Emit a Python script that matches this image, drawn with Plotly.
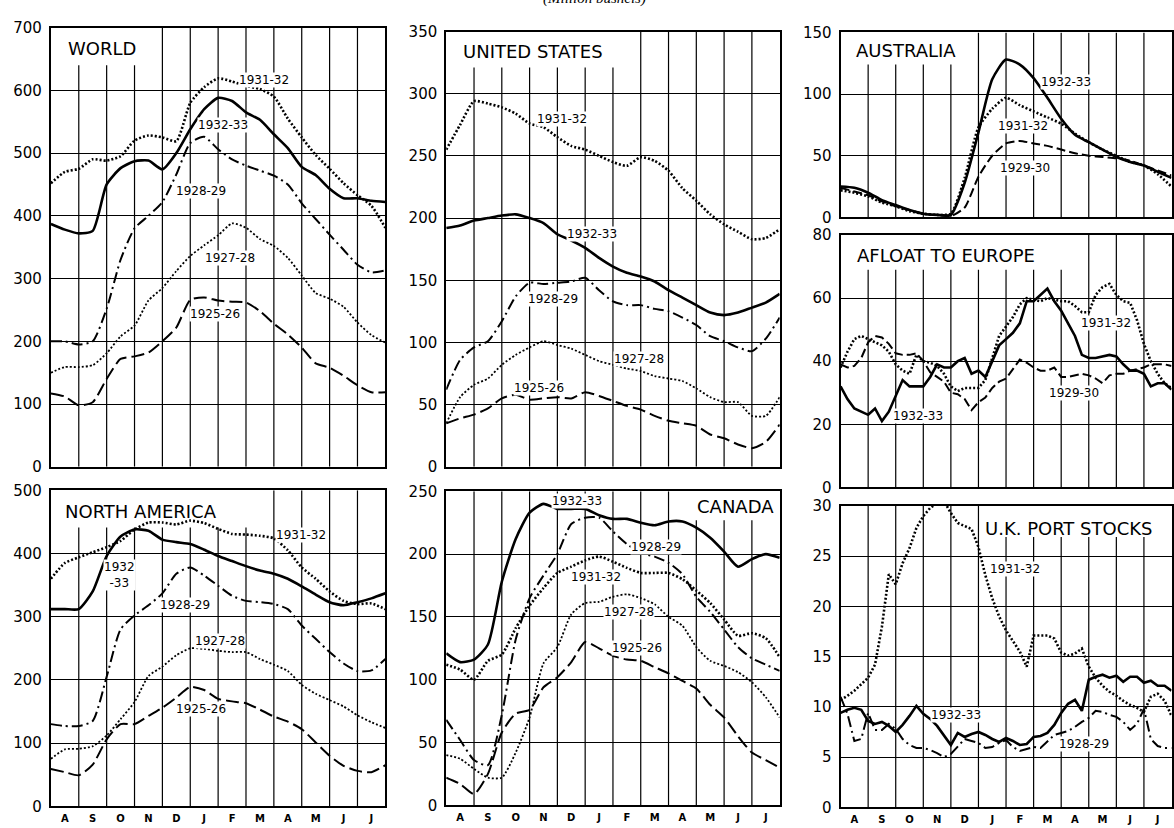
import plotly.graph_objects as go

# ---------------------------------------------------------------------------
# Crop-year wheat stocks, weekly readings from August through July
# ---------------------------------------------------------------------------
MONTHS = ["A", "S", "O", "N", "D", "J", "F", "M", "A", "M", "J", "J"]
HALF_MONTHS = [i / 2 for i in range(25)]      # month index, Aug 1 = 0
QUARTER_MONTHS = [i / 4 for i in range(49)]

# World
WORLD_1932_33 = [387, 378, 372, 376, 450, 476, 487, 488, 474, 500, 538, 570, 588,
                 583, 565, 553, 530, 508, 478, 465, 443, 428, 428, 424, 422]
WORLD_1931_32 = [452, 470, 475, 490, 488, 495, 520, 528, 525, 519, 580, 605, 619,
                 614, 607, 602, 590, 555, 525, 497, 475, 452, 433, 416, 381]
WORLD_1928_29 = [200, 200, 195, 200, 252, 330, 380, 400, 422, 466, 516, 526, 506,
                 490, 480, 472, 464, 450, 420, 395, 370, 346, 322, 310, 313]
WORLD_1927_28 = [150, 159, 159, 162, 181, 208, 225, 265, 285, 312, 336, 353, 369,
                 388, 381, 363, 352, 333, 305, 277, 268, 255, 230, 210, 198]
WORLD_1925_26 = [117, 112, 98, 103, 140, 172, 176, 182, 200, 222, 266, 270, 265,
                 263, 262, 248, 228, 211, 190, 165, 158, 145, 130, 119, 119]

# United States
US_1931_32 = [255, 275, 294, 292, 289, 284, 276, 273, 265, 258, 255, 250, 245,
              242, 249, 246, 238, 224, 214, 203, 195, 189, 183, 184, 191]
US_1932_33 = [192, 194, 198, 200, 202, 203, 200, 196, 187, 182, 176, 168, 161,
              156, 153, 149, 142, 136, 130, 124, 122, 124, 128, 132, 139]
US_1928_29 = [62, 86, 96, 101, 117, 137, 148, 147, 148, 149, 152, 142, 133,
              130, 130, 127, 125, 120, 114, 105, 101, 96, 93, 103, 120]
US_1927_28 = [35, 56, 66, 71, 82, 90, 96, 101, 98, 95, 90, 85, 82,
              79, 77, 73, 71, 69, 63, 56, 52, 52, 41, 41, 56]
US_1925_26 = [35, 39, 42, 47, 55, 58, 54, 55, 56, 55, 60, 57, 53,
              49, 46, 41, 37, 35, 33, 26, 23, 18, 15, 20, 34]

# North America
NA_1932_33 = [312, 312, 312, 340, 396, 427, 438, 436, 422, 418, 415, 406, 396,
              388, 380, 373, 368, 360, 348, 335, 323, 318, 323, 329, 337]
NA_1931_32 = [360, 385, 394, 402, 410, 420, 438, 449, 449, 446, 452, 448, 439,
              431, 430, 428, 424, 405, 378, 360, 340, 325, 320, 321, 312]
NA_1928_29 = [130, 127, 127, 135, 205, 280, 302, 318, 337, 368, 378, 365, 349,
              333, 325, 323, 320, 312, 286, 265, 244, 226, 214, 215, 233]
NA_1927_28 = [75, 90, 91, 95, 112, 138, 165, 206, 221, 239, 250, 249, 246,
              244, 244, 233, 224, 214, 192, 178, 168, 158, 144, 133, 124]
NA_1925_26 = [59, 54, 49, 66, 106, 130, 130, 143, 156, 172, 189, 184, 170,
              166, 163, 153, 142, 134, 122, 101, 80, 64, 56, 54, 65]

# Canada
CA_1932_33 = [121, 114, 116, 128, 178, 212, 233, 240, 236, 236, 236, 231, 228,
              228, 225, 223, 226, 226, 221, 213, 202, 190, 196, 200, 197]
CA_1928_29 = [68, 52, 36, 32, 72, 132, 165, 183, 200, 224, 229, 229, 218,
              208, 201, 198, 193, 184, 166, 154, 140, 126, 117, 112, 107]
CA_1931_32 = [112, 108, 100, 115, 120, 141, 159, 173, 185, 190, 195, 198, 194,
              189, 185, 185, 185, 180, 171, 161, 148, 135, 137, 133, 118]
CA_1927_28 = [40, 37, 29, 22, 22, 42, 70, 113, 126, 152, 161, 162, 166,
              168, 165, 160, 150, 143, 126, 115, 111, 106, 98, 86, 70]
CA_1925_26 = [22, 17, 9, 25, 58, 73, 76, 94, 102, 114, 130, 125, 119,
              116, 115, 110, 105, 99, 93, 80, 70, 55, 42, 36, 30]

# Australia
AU_1932_33 = [25, 24, 20, 14, 10, 6, 3, 2, 2, 28, 69, 112, 128,
              124, 113, 97, 80, 67, 61, 55, 49, 45, 42, 37, 32]
AU_1931_32 = [22, 20, 17, 12, 9, 5, 3, 2, 3, 32, 73, 88, 97,
              91, 86, 81, 76, 68, 61, 55, 50, 45, 42, 35, 25]
AU_1929_30 = [24, 21, 18, 13, 9, 6, 3, 2, 1, 8, 33, 50, 60,
              62, 60, 58, 55, 52, 50, 49, 48, 46, 42, 38, 34]

# Afloat to Europe
AF_1932_33 = [32, 28, 25, 24, 23, 25, 21, 24, 29, 34, 32, 32, 32, 35, 39, 38, 38,
              40, 41, 36, 37, 35, 40, 45, 47, 49, 52, 59, 59, 61, 63, 59, 56,
              52, 48, 42, 41, 41, 41.5, 42, 41.5, 39, 37, 37, 36, 32, 33, 33, 31]
AF_1931_32 = [38, 43, 47, 48, 47, 46, 45, 43, 39, 37, 36, 42, 40, 39.5, 38.5, 36,
              32, 30.5, 31.5, 31.5, 31.5, 34, 41, 48, 51, 54, 58, 60, 59.5, 59,
              60, 59.5, 59, 59, 57.5, 55.5, 55.5, 61, 63.5, 64.5, 61, 59, 58.5,
              53, 45.5, 40, 36, 33, 31.5]
AF_1929_30 = [39, 38, 38.5, 41, 46, 48, 47.5, 45.5, 42.5, 42, 42, 42.5, 40, 36.5,
              35, 33.5, 30, 29.5, 28, 24.5, 27, 28.5, 31.5, 33.5, 34.5, 37.5,
              40.5, 39.5, 38, 37, 37, 38, 35, 35, 35.5, 36, 35.5, 34.5, 33,
              35.5, 36, 36, 37, 37.5, 38, 39, 39, 39, 38.5]

# U.K. port stocks
UK_1931_32 = [10.7, 11.1, 11.6, 12.3, 12.9, 14.2, 18, 23.2, 22.2, 24.3, 25.8,
              27.8, 29, 29.8, 30.3, 30.5, 29.3, 28.3, 28, 27.7, 25.9, 23.1,
              20.8, 19, 17.6, 16.5, 15.5, 14, 17.1, 17.1, 17.1, 16.8, 15.4,
              15.1, 15.3, 15.8, 14, 12.9, 12.1, 11.5, 11.1, 10.6, 10.2, 9.9,
              9.5, 11, 11.3, 10.6, 9.1]
UK_1932_33 = [9.4, 9.7, 9.9, 9.7, 8.6, 8.3, 8.5, 8.1, 7.5, 8.2, 9.1, 10.1, 9.3,
              8.8, 8.1, 7.2, 6.2, 7.4, 7.0, 7.3, 7.5, 7.2, 6.8, 6.5, 6.9, 6.6,
              6.2, 6.3, 7.0, 7.1, 7.4, 8.2, 9.4, 10.3, 10.7, 9.6, 12.7, 13.0,
              13.2, 12.9, 13.1, 12.5, 13.0, 13.0, 12.4, 12.6, 12.1, 12.1, 11.6]
UK_1928_29 = [11, 9.3, 6.6, 6.8, 9.4, 7.7, 7.7, 8.3, 7.8, 6.8, 6.2, 5.9, 5.9,
              5.7, 5.4, 5.0, 5.3, 6.0, 6.8, 6.6, 6.4, 5.9, 6.0, 6.4, 6.7, 6.0,
              5.6, 5.8, 6.0, 5.9, 6.6, 7.2, 7.4, 7.6, 8.0, 8.5, 8.9, 9.6, 9.5,
              9.2, 9.0, 8.5, 7.7, 8.3, 9.8, 6.8, 6.1, 5.9, 5.9]

# ---------------------------------------------------------------------------
W, H = 1174, 828
FONT = "DejaVu Sans"

LINE_STYLES = {
    "1932-33": dict(color="black", width=2.6, dash="solid"),
    "1931-32": dict(color="black", width=2.6, dash="2px,2px"),
    "1929-30": dict(color="black", width=2.0, dash="9px,4px"),
    "1928-29": dict(color="black", width=2.0, dash="11px,4px,2px,4px"),
    "1927-28": dict(color="black", width=1.8, dash="2px,2px"),
    "1925-26": dict(color="black", width=2.0, dash="13px,5px"),
}

PANELS = [
    dict(title="WORLD", t_pos=(0.55, 667, "left"), xpx=(51, 386), ypx=(19, 468),
         ymax=700, step=100, months=False, x=HALF_MONTHS, smooth=True,
         box=(0, 4, 640),
         series=[("1925-26", WORLD_1925_26), ("1927-28", WORLD_1927_28),
                 ("1928-29", WORLD_1928_29), ("1931-32", WORLD_1931_32),
                 ("1932-33", WORLD_1932_33)],
         labels=[("1931-32", 7.65, 616), ("1932-33", 6.18, 545),
                 ("1928-29", 5.4, 439), ("1927-28", 6.42, 332),
                 ("1925-26", 5.88, 244)]),
    dict(title="UNITED STATES", t_pos=(0.54, 334, "left"), xpx=(447, 781),
         ypx=(23, 468), ymax=350, step=50, months=False, x=HALF_MONTHS,
         smooth=True, box=(0, 7, 321),
         series=[("1925-26", US_1925_26), ("1927-28", US_1927_28),
                 ("1928-29", US_1928_29), ("1931-32", US_1931_32),
                 ("1932-33", US_1932_33)],
         labels=[("1931-32", 4.18, 280), ("1932-33", 5.26, 187),
                 ("1928-29", 3.83, 135), ("1927-28", 6.94, 87),
                 ("1925-26", 3.35, 63)]),
    dict(title="NORTH AMERICA", t_pos=(0.43, 467, "left"), xpx=(51, 386),
         ypx=(492, 815), ymax=500, step=100, months=True, x=HALF_MONTHS,
         smooth=True, box=(0, 8, 441),
         series=[("1925-26", NA_1925_26), ("1927-28", NA_1927_28),
                 ("1928-29", NA_1928_29), ("1931-32", NA_1931_32),
                 ("1932-33", NA_1932_33)],
         labels=[("1931-32", 8.98, 430), ("1932<br>-33", 2.47, 366),
                 ("1928-29", 4.8, 319), ("1927-28", 6.06, 262),
                 ("1925-26", 5.4, 154)]),
    dict(title="CANADA", t_pos=(11.87, 238, "right"), xpx=(447, 781),
         ypx=(493, 814), ymax=250, step=50, months=True, x=HALF_MONTHS,
         smooth=True, box=(8, 12, 227),
         series=[("1925-26", CA_1925_26), ("1927-28", CA_1927_28),
                 ("1931-32", CA_1931_32), ("1928-29", CA_1928_29),
                 ("1932-33", CA_1932_33)],
         labels=[("1932-33", 4.72, 242), ("1928-29", 7.54, 206),
                 ("1931-32", 5.38, 182), ("1927-28", 6.58, 154),
                 ("1925-26", 6.88, 125)]),
    dict(title="AUSTRALIA", t_pos=(0.5, 135, "left"), xpx=(842, 1173.5),
         ypx=(24, 213), ymax=150, step=50, months=False, x=HALF_MONTHS,
         smooth=True, box=(0, 5, 124),
         series=[("1929-30", AU_1929_30), ("1931-32", AU_1931_32),
                 ("1932-33", AU_1932_33)],
         labels=[("1932-33", 8.18, 110), ("1931-32", 6.61, 74),
                 ("1929-30", 6.67, 40)]),
    dict(title="AFLOAT TO EUROPE", t_pos=(0.54, 73.5, "left"), xpx=(842, 1173.5),
         ypx=(231, 489), ymax=80, step=20, months=False, x=QUARTER_MONTHS,
         smooth=False, box=(0, 9, 69),
         series=[("1929-30", AF_1929_30), ("1931-32", AF_1931_32),
                 ("1932-33", AF_1932_33)],
         labels=[("1931-32", 9.63, 52), ("1929-30", 8.48, 30),
                 ("1932-33", 2.82, 22.7)]),
    dict(title="U.K. PORT STOCKS", t_pos=(5.18, 27.8, "left"), xpx=(842, 1173.5),
         ypx=(508, 816), ymax=30, step=5, months=True, x=QUARTER_MONTHS,
         smooth=False, box=(5, 12, 26.9),
         series=[("1928-29", UK_1928_29), ("1931-32", UK_1931_32),
                 ("1932-33", UK_1932_33)],
         labels=[("1931-32", 6.31, 23.7), ("1932-33", 4.2, 9.2),
                 ("1928-29", 8.84, 6.3)]),
]

fig = go.Figure()
shapes, annotations = [], []


def ref(axis, n):
    return axis if n == 1 else f"{axis}{n}"


for n, p in enumerate(PANELS, start=1):
    xr, yr = ref("x", n), ref("y", n)
    x0, x1 = p["xpx"]
    top, bottom = p["ypx"]

    fig.layout[ref("xaxis", n)] = dict(
        domain=[x0 / W, x1 / W], range=[0, 12], anchor=yr,
        showgrid=False, zeroline=False, showline=True, mirror=True,
        linecolor="black", linewidth=2, ticks="",
        tickvals=[k + 0.5 for k in range(12)], ticktext=MONTHS,
        showticklabels=p["months"], ticklabelstandoff=2,
        tickfont=dict(family=FONT, size=10, color="black", weight="bold"),
    )
    fig.layout[ref("yaxis", n)] = dict(
        domain=[1 - bottom / H, 1 - top / H], range=[0, p["ymax"]], anchor=xr,
        tickvals=list(range(0, p["ymax"] + 1, p["step"])),
        showgrid=True, gridcolor="black", gridwidth=1, zeroline=False,
        showline=True, mirror=True, linecolor="black", linewidth=2,
        ticks="", ticklabelstandoff=4,
        tickfont=dict(family=FONT, size=15, color="black"),
    )

    # month boundaries; those inside the title box stop at its lower edge
    c0, c1, box_bottom = p["box"]
    for k in range(1, 12):
        y_end = box_bottom if c0 < k < c1 else p["ymax"]
        shapes.append(dict(type="line", xref=xr, yref=yr, x0=k, x1=k,
                           y0=0, y1=y_end, layer="below",
                           line=dict(color="black", width=1.2)))

    for season, values in p["series"]:
        line = dict(LINE_STYLES[season])
        if p["smooth"]:
            line.update(shape="spline", smoothing=0.6)
        fig.add_trace(go.Scatter(x=p["x"], y=values, mode="lines", line=line,
                                 xaxis=xr, yaxis=yr, showlegend=False,
                                 name=season, hoverinfo="skip"))

    for text, lx, ly in p["labels"]:
        annotations.append(dict(text=text, x=lx, y=ly, xref=xr, yref=yr,
                                showarrow=False, bgcolor="white", borderpad=0,
                                font=dict(family=FONT, size=12, color="black")))

    tx, ty, anchor = p["t_pos"]
    annotations.append(dict(text=p["title"], x=tx, y=ty, xref=xr, yref=yr,
                            xanchor=anchor, yanchor="middle", showarrow=False,
                            font=dict(family=FONT, size=18, color="black")))

# unit caption, running off the top edge of the page
annotations.append(dict(text="(Million bushels)", x=596 / W, y=1, xref="paper",
                        yref="paper", yanchor="middle", yshift=11,
                        showarrow=False,
                        font=dict(family="Liberation Serif", size=15,
                                  color="black", style="italic")))

fig.update_layout(width=W, height=H, margin=dict(l=0, r=0, t=0, b=0),
                  paper_bgcolor="white", plot_bgcolor="white",
                  shapes=shapes, annotations=annotations)

fig.write_html("out.html")
